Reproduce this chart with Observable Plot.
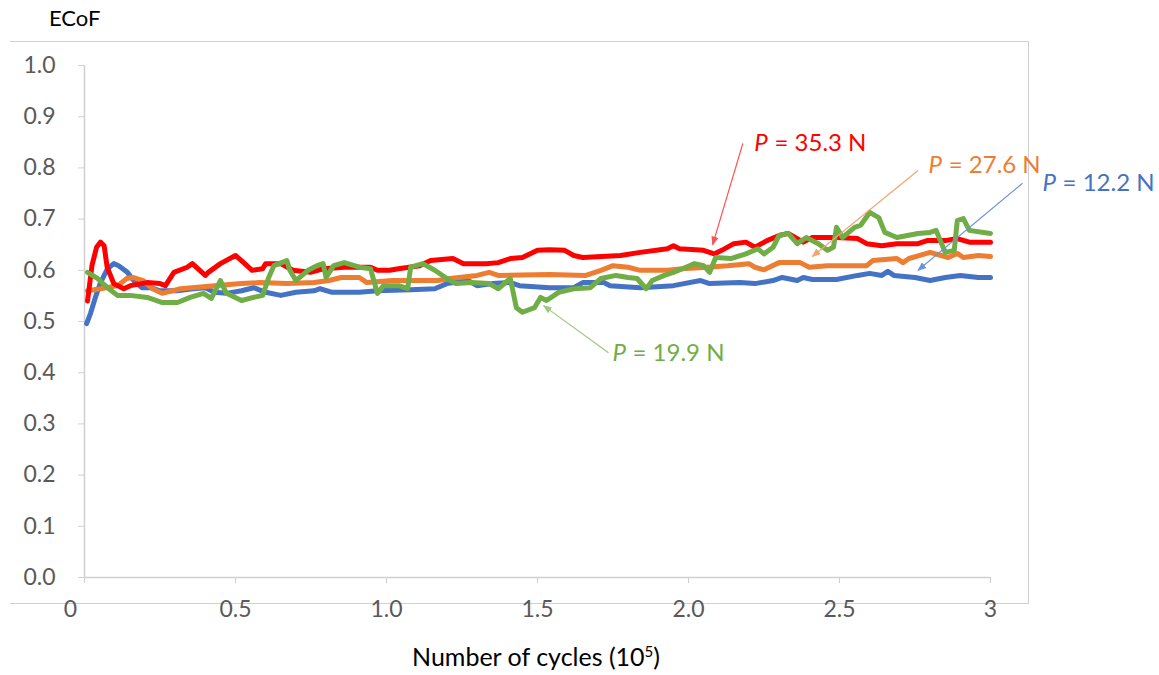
<!DOCTYPE html>
<html>
<head>
<meta charset="utf-8">
<script src="https://cdn.jsdelivr.net/npm/d3@7"></script>
<script src="https://cdn.jsdelivr.net/npm/@observablehq/plot@0.6"></script>
<style>
  html, body { margin: 0; padding: 0; background: #fff; }
  #wrap { position: relative; width: 1159px; height: 675px; font-family: Lato, "Open Sans", sans-serif; }
  #frame { position: absolute; left: 10px; top: 41px; width: 1018px; height: 561px;
           border-top: 1.5px solid #d0d0d0; border-right: 1.5px solid #d0d0d0; border-bottom: 1.5px solid #d0d0d0; }
  #ylab { position: absolute; left: 49px; top: 4px; font-size: 22px; color: #000; }
  #xlab { position: absolute; left: 0; width: 1072px; text-align: center; top: 641px; font-size: 25px; color: #000; }
  #chart { position: absolute; left: 0; top: 0; }
</style>
</head>
<body>
<div id="wrap">
  <div id="frame"></div>
  <div id="ylab">ECoF</div>
  <div id="xlab">Number of cycles (10<sup style="font-size:15px">5</sup>)</div>
  <div id="chart"></div>
</div>
<script>
// ---- Data (x in 10^5 cycles, y = ECoF) ----
const redX = [0.01,0.025,0.04,0.053,0.065,0.075,0.097,0.13,0.152,0.208,0.25,0.268,0.296,0.34,0.357,0.40,0.41,0.45,0.5,0.527,0.555,0.59,0.6,0.65,0.69,0.748,0.79,0.86,0.947,0.97,1.01,1.04,1.11,1.146,1.22,1.255,1.33,1.37,1.41,1.45,1.5,1.54,1.59,1.62,1.65,1.775,1.84,1.93,1.95,1.97,2.05,2.085,2.11,2.15,2.19,2.22,2.26,2.3,2.33,2.36,2.38,2.41,2.49,2.56,2.59,2.64,2.69,2.76,2.79,2.85,2.89,2.93,3.0];
const redY = [0.54,0.61,0.645,0.655,0.648,0.606,0.574,0.564,0.57,0.576,0.574,0.57,0.596,0.606,0.613,0.59,0.596,0.613,0.629,0.615,0.6,0.603,0.613,0.613,0.6,0.596,0.603,0.606,0.606,0.6,0.6,0.603,0.609,0.619,0.623,0.613,0.613,0.615,0.623,0.625,0.639,0.64,0.639,0.629,0.625,0.629,0.635,0.642,0.648,0.642,0.639,0.632,0.639,0.652,0.655,0.645,0.658,0.668,0.672,0.662,0.655,0.664,0.664,0.662,0.652,0.648,0.652,0.652,0.658,0.658,0.662,0.655,0.655];

const orangeX = [0.01,0.053,0.11,0.14,0.16,0.195,0.225,0.257,0.318,0.43,0.52,0.58,0.67,0.76,0.81,0.85,0.91,0.935,1.02,1.17,1.21,1.3,1.34,1.37,1.54,1.66,1.71,1.75,1.8,1.84,1.93,1.98,2.06,2.13,2.2,2.22,2.25,2.3,2.37,2.4,2.46,2.59,2.61,2.69,2.71,2.73,2.8,2.86,2.89,2.91,2.96,3.0];
const orangeY = [0.56,0.564,0.57,0.584,0.586,0.58,0.564,0.555,0.564,0.57,0.574,0.576,0.574,0.576,0.58,0.586,0.586,0.576,0.58,0.58,0.584,0.59,0.596,0.59,0.592,0.59,0.6,0.609,0.606,0.6,0.6,0.603,0.606,0.609,0.613,0.606,0.601,0.615,0.615,0.606,0.609,0.609,0.619,0.623,0.615,0.623,0.635,0.625,0.633,0.625,0.629,0.627];

const blueX = [0.007,0.02,0.036,0.053,0.076,0.097,0.113,0.142,0.163,0.19,0.22,0.25,0.308,0.36,0.4,0.43,0.47,0.52,0.56,0.6,0.65,0.7,0.76,0.78,0.82,0.91,0.97,1.08,1.16,1.2,1.27,1.3,1.35,1.41,1.44,1.54,1.62,1.65,1.72,1.74,1.84,1.95,2.04,2.07,2.17,2.22,2.28,2.31,2.36,2.38,2.41,2.49,2.56,2.6,2.64,2.66,2.68,2.75,2.8,2.85,2.9,2.96,3.0];
const blueY = [0.496,0.516,0.547,0.576,0.603,0.613,0.609,0.596,0.58,0.566,0.566,0.56,0.56,0.564,0.566,0.557,0.555,0.56,0.566,0.557,0.551,0.557,0.56,0.564,0.557,0.557,0.56,0.562,0.564,0.574,0.58,0.57,0.574,0.576,0.57,0.566,0.566,0.576,0.576,0.57,0.566,0.57,0.58,0.574,0.576,0.574,0.58,0.586,0.58,0.586,0.582,0.582,0.59,0.594,0.59,0.598,0.59,0.586,0.58,0.586,0.59,0.586,0.586];

const greenX = [0.01,0.043,0.076,0.11,0.152,0.208,0.258,0.308,0.35,0.394,0.42,0.45,0.47,0.52,0.56,0.59,0.61,0.627,0.67,0.68,0.7,0.74,0.77,0.79,0.8,0.825,0.86,0.91,0.947,0.97,0.99,1.04,1.07,1.08,1.12,1.16,1.2,1.23,1.28,1.34,1.37,1.41,1.43,1.45,1.49,1.51,1.53,1.57,1.62,1.675,1.71,1.76,1.8,1.83,1.86,1.88,1.92,1.95,1.98,2.02,2.05,2.07,2.09,2.14,2.19,2.23,2.25,2.28,2.3,2.33,2.36,2.39,2.43,2.46,2.48,2.49,2.51,2.55,2.57,2.6,2.63,2.65,2.69,2.76,2.8,2.82,2.85,2.88,2.89,2.91,2.93,3.0];
const greenY = [0.596,0.584,0.566,0.551,0.551,0.547,0.537,0.537,0.547,0.555,0.545,0.58,0.555,0.541,0.547,0.551,0.586,0.609,0.619,0.6,0.58,0.6,0.609,0.613,0.586,0.609,0.615,0.606,0.603,0.555,0.57,0.57,0.564,0.606,0.613,0.6,0.584,0.574,0.576,0.574,0.564,0.584,0.527,0.518,0.527,0.547,0.541,0.557,0.564,0.566,0.584,0.59,0.586,0.584,0.564,0.58,0.59,0.596,0.603,0.613,0.609,0.596,0.625,0.623,0.632,0.642,0.632,0.645,0.668,0.672,0.652,0.664,0.652,0.639,0.645,0.684,0.664,0.684,0.688,0.713,0.703,0.674,0.664,0.672,0.674,0.678,0.635,0.639,0.697,0.701,0.678,0.672];

const xTicks = [0, 0.5, 1.0, 1.5, 2.0, 2.5, 3];
const xTickLabels = ["0", "0.5", "1.0", "1.5", "2.0", "2.5", "3"];
const yTicks = [0, 0.1, 0.2, 0.3, 0.4, 0.5, 0.6, 0.7, 0.8, 0.9, 1.0];

// Annotations: label anchor (x, y) and arrow from (x1,y1) to (x2,y2)
const annLabels = ["35.3", "27.6", "12.2", "19.9"];
const annColors = ["#ff0000", "#ed7d31", "#4472c4", "#70ad47"];
const annArrowColors = ["#ff5050", "#f4a46e", "#6d93d6", "#9cc97f"];
const annX = [2.218, 2.795, 3.172, 1.748];
const annY = [0.848, 0.805, 0.77, 0.4375];
const arrX1 = [2.18, 2.76, 3.106, 1.735];
const arrY1 = [0.848, 0.795, 0.77, 0.439];
const arrX2 = [2.08, 2.41, 2.76, 1.52];
const arrY2 = [0.65, 0.627, 0.60, 0.531];

// ---- Build tables ----
const seriesDefs = [
  {name: "P = 35.3 N", xs: redX, ys: redY, color: "#ff0000"},
  {name: "P = 27.6 N", xs: orangeX, ys: orangeY, color: "#ed7d31"},
  {name: "P = 12.2 N", xs: blueX, ys: blueY, color: "#4472c4"},
  {name: "P = 19.9 N", xs: greenX, ys: greenY, color: "#70ad47"}
];
const order = [2, 1, 0, 3];
const lineData = [];
for (const i of order) {
  const s = seriesDefs[i];
  const n = Math.min(s.xs.length, s.ys.length);
  for (let k = 0; k < n; k++) lineData.push({series: s.name, color: s.color, x: s.xs[k], y: s.ys[k]});
}
const ann = annLabels.map((v, i) => ({
  text: " = " + v + " N", color: annColors[i], acolor: annArrowColors[i],
  x: annX[i], y: annY[i], x1: arrX1[i], y1: arrY1[i], x2: arrX2[i], y2: arrY2[i]
}));

function triMarker(color, context) {
  const doc = (context && context.document) || document;
  const m = doc.createElementNS("http://www.w3.org/2000/svg", "marker");
  m.setAttribute("viewBox", "-5 -5 10 10");
  m.setAttribute("markerWidth", "9");
  m.setAttribute("markerHeight", "9");
  m.setAttribute("markerUnits", "userSpaceOnUse");
  m.setAttribute("orient", "auto");
  m.setAttribute("refX", "4");
  const p = doc.createElementNS("http://www.w3.org/2000/svg", "path");
  p.setAttribute("d", "M-5,-4L5,0L-5,4Z");
  p.setAttribute("fill", color);
  p.setAttribute("stroke", "none");
  m.appendChild(p);
  return m;
}

function build(markerEnd) {
  return Plot.plot({
    width: 1159,
    height: 675,
    marginLeft: 84,
    marginRight: 169,
    marginTop: 65,
    marginBottom: 98,
    style: {fontFamily: "Lato, 'Open Sans', sans-serif", background: "transparent", overflow: "visible"},
    x: {type: "linear", domain: [0, 3]},
    y: {type: "linear", domain: [0, 1]},
    marks: [
      Plot.ruleX([0], {stroke: "#d0d0d0", strokeWidth: 1.5}),
      Plot.ruleY([0], {stroke: "#d0d0d0", strokeWidth: 1.5}),
      Plot.axisY({ticks: yTicks, tickFormat: d3.format(".1f"), tickSize: 6, tickPadding: 23,
                  stroke: "#d0d0d0", fill: "#595959", fontSize: 23, label: null}),
      Plot.axisX({ticks: xTicks, tickFormat: () => "", tickSize: 6, stroke: "#d0d0d0", label: null}),
      Plot.axisX({ticks: xTicks.slice(1), tickFormat: (d) => xTickLabels[xTicks.indexOf(d)], tickSize: 0, tickPadding: 23,
                  fill: "#595959", fontSize: 23, label: null}),
      Plot.axisX({ticks: xTicks.slice(0, 1), tickFormat: (d) => xTickLabels[xTicks.indexOf(d)], tickSize: 0, tickPadding: 23,
                  dx: -14, fill: "#595959", fontSize: 23, label: null}),
      Plot.line(lineData, {x: "x", y: "y", z: "series", stroke: "color", strokeWidth: 5,
                           strokeLinejoin: "round", strokeLinecap: "round"}),
      Plot.link(ann, {x1: "x1", y1: "y1", x2: "x2", y2: "y2", stroke: "acolor", strokeWidth: 1.2, markerEnd}),
      Plot.text(ann, {x: "x", y: "y", text: () => "P", fill: "color", fontStyle: "italic", fontSize: 24, textAnchor: "start"}),
      Plot.text(ann, {x: "x", y: "y", text: "text", fill: "color", fontSize: 24, textAnchor: "start", dx: 14})
    ]
  });
}

let chart;
try {
  chart = build(triMarker);
} catch (e) {
  console.error(e);
  chart = build("arrow");
}
document.getElementById("chart").appendChild(chart);
</script>
</body>
</html>
